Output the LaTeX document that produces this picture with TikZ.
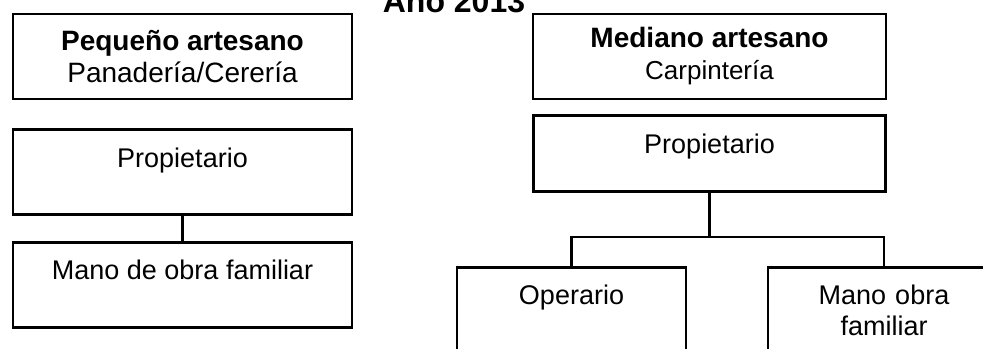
\documentclass[tikz,border=0pt]{standalone}
\usepackage{fontspec}
\setmainfont{Liberation Sans}
\usetikzlibrary{positioning}

\begin{document}
\begin{tikzpicture}[
  x=0.5pt, y=-0.5pt,
  box/.style={draw, line width=1.3pt, inner sep=0pt, align=center,
              minimum width=169.5pt},
  headbox/.style={box, minimum height=42.5pt, font=\fontsize{14}{16}\selectfont},
  rolebox/.style={box, text height=18.75pt, text depth=23.75pt,
                  font=\fontsize{13.5}{15.5}\selectfont},
  link/.style={line width=1.3pt},
  node distance=14pt,
]
\useasboundingbox (0,0) rectangle (983,348);
%% Title
\node[anchor=base, font=\bfseries\fontsize{16}{18}\selectfont] (year) at (454,12) {Año 2013};
%% Small craftsman
\node[headbox] (peq) at (182.5,56.5)
  {{\bfseries Pequeño artesano}\\Panadería/Cerería};
\node[rolebox, below=14pt of peq] (propL) {Propietario};
\node[rolebox, below=12.5pt of propL] (manoL) {Mano de obra familiar};
%% Medium craftsman
\node[headbox, minimum width=176.5pt] (med) at (709.5,56.5)
  {{\bfseries Mediano artesano}\\{\fontsize{13}{16}\selectfont Carpintería}};
\node[rolebox, minimum width=176pt, text depth=19.25pt, below=7pt of med] (propR) {Propietario};
\node[rolebox, minimum width=114.5pt, anchor=north] (oper) at (571.5,266) {Operario};
\node[rolebox, minimum width=116pt, text width=116pt, anchor=north] (manoR) at (884,266)
  {Mano obra\\familiar};
%% Links
\coordinate (bus) at (propR.south |- 0,237);
\draw[link] (propL) -- (manoL);
\draw[link] (propR.south) -- (bus);
\draw[link] (oper.north) |- (bus) -| (manoR.north);
\end{tikzpicture}
\end{document}
